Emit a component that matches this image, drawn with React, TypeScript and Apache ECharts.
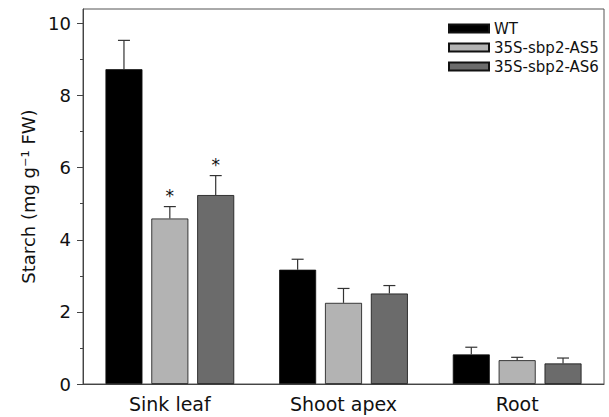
import React, { useEffect, useRef } from "react";
import * as echarts from "echarts";

const categories = ["Sink leaf", "Shoot apex", "Root"];
const seriesNames = ["WT", "35S-sbp2-AS5", "35S-sbp2-AS6"];
const wtValues = [8.73, 3.17, 0.82];
const as5Values = [4.59, 2.25, 0.66];
const as6Values = [5.24, 2.51, 0.57];
const wtErr = [0.8, 0.29, 0.2];
const as5Err = [0.33, 0.4, 0.08];
const as6Err = [0.54, 0.22, 0.15];
const as5Sig = [true, false, false];
const as6Sig = [true, false, false];
const wtSig = [false, false, false];
const yTicks = [0, 2, 4, 6, 8, 10];
const yMinorTicks = [1, 3, 5, 7, 9];

const colors = ["#000000", "#b3b3b3", "#6b6b6b"];
const FONT = "DejaVu Sans";
const BAR_W = 0.213;
const BAR_GAP = 0.24;

export default function App() {
  const ref = useRef<HTMLDivElement>(null);
  useEffect(() => {
    if (!ref.current) return;
    const chart = echarts.init(ref.current, null, { renderer: "svg" });
    const values = [wtValues, as5Values, as6Values];
    const errs = [wtErr, as5Err, as6Err];
    const sigs = [wtSig, as5Sig, as6Sig];

    const barSeries = seriesNames.map((name, i) => ({
      name,
      type: "bar",
      data: values[i],
      barWidth: BAR_W * 100 + "%",
      barGap: BAR_GAP * 100 + "%",
      itemStyle: { color: colors[i], borderColor: "#111", borderWidth: 0.8 },
      z: 2,
    }));

    const errSeries = seriesNames.map((name, s) => ({
      type: "custom",
      name: name + "-err",
      z: 3,
      data: values[s].map((v, i) => [i, v, v + errs[s][i], sigs[s][i] ? 1 : 0]),
      renderItem: (params: any, api: any) => {
        const idx = api.value(0);
        const v = api.value(1);
        const top = api.value(2);
        const sig = api.value(3);
        const band = api.size([1, 0])[0];
        const bw = band * BAR_W;
        const gap = bw * BAR_GAP;
        const offset = (s - 1) * (bw + gap);
        const p0 = api.coord([idx, v]);
        const p1 = api.coord([idx, top]);
        const x = p0[0] + offset;
        const capHalf = 6;
        const children: any[] = [
          {
            type: "line",
            shape: { x1: x, y1: p0[1], x2: x, y2: p1[1] },
            style: { stroke: "#333", lineWidth: 1.2 },
          },
          {
            type: "line",
            shape: { x1: x - capHalf, y1: p1[1], x2: x + capHalf, y2: p1[1] },
            style: { stroke: "#333", lineWidth: 1.2 },
          },
        ];
        if (sig) {
          children.push({
            type: "text",
            style: {
              text: "*",
              x: x,
              y: p1[1] - 2,
              textAlign: "center",
              textVerticalAlign: "bottom",
              fontSize: 17,
              fontFamily: FONT,
              fill: "#111",
            },
          });
        }
        return { type: "group", children };
      },
    }));

    chart.setOption({
      animation: false,
      textStyle: { fontFamily: FONT },
      grid: {
        left: 83,
        right: 5,
        top: 9,
        bottom: 33,
        show: true,
        borderColor: "#555",
        borderWidth: 1,
        containLabel: false,
      },
      legend: {
        orient: "vertical",
        left: 443,
        top: 16,
        itemWidth: 40,
        itemHeight: 8,
        itemGap: 4,
        icon: "rect",
        data: seriesNames,
        textStyle: { fontSize: 15, color: "#111", fontFamily: FONT },
      },
      xAxis: {
        type: "category",
        data: categories,
        axisLine: { lineStyle: { color: "#444", width: 1 } },
        axisTick: { alignWithLabel: true, length: 5, lineStyle: { color: "#444" } },
        axisLabel: { fontSize: 19, color: "#111", margin: 10, fontFamily: FONT },
      },
      yAxis: [
        {
          type: "value",
          min: 0,
          max: 10.4,
          name: "Starch (mg g\u207B\u00B9 FW)",
          nameLocation: "middle",
          nameGap: 45,
          nameTextStyle: { fontSize: 18, color: "#111", fontFamily: FONT },
          axisLine: { show: true, lineStyle: { color: "#444" } },
          axisTick: { show: true, length: 6, customValues: yTicks, lineStyle: { color: "#444" } },
          axisLabel: { fontSize: 18, color: "#111", margin: 12, customValues: yTicks, fontFamily: FONT },
          splitLine: { show: false },
        },
        {
          type: "value",
          min: 0,
          max: 10.4,
          position: "left",
          axisLine: { show: false },
          axisTick: { show: true, length: 3, customValues: yMinorTicks, lineStyle: { color: "#444" } },
          axisLabel: { show: false },
          splitLine: { show: false },
        },
      ],
      series: [...barSeries, ...errSeries],
    });
    return () => chart.dispose();
  }, []);
  return <div ref={ref} style={{ width: 609, height: 417, position: "absolute", left: 0, top: 0 }} />;
}
